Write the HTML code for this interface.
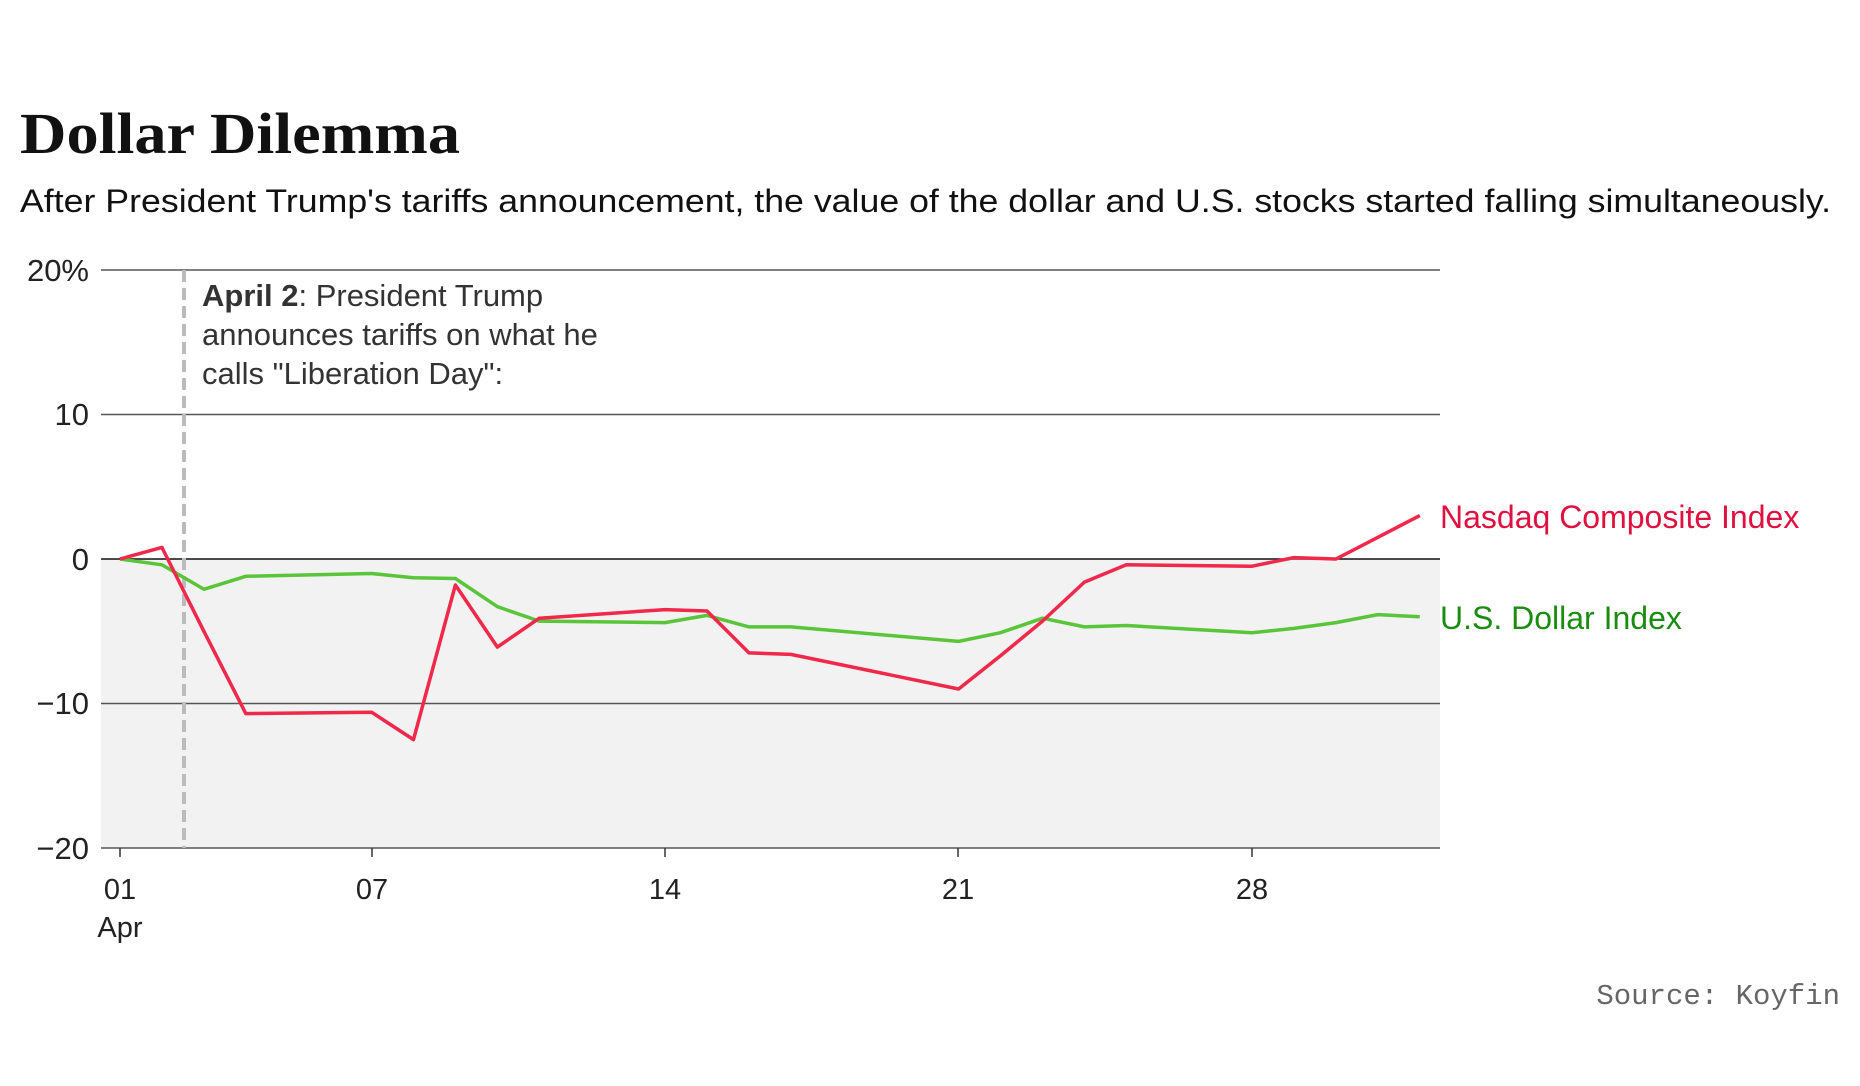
<!DOCTYPE html>
<html><head><meta charset="utf-8"><style>
html,body{margin:0;padding:0;background:#fff;}
svg{display:block;}
</style></head><body>
<svg id="c" width="1860" height="1086" xmlns="http://www.w3.org/2000/svg">
<text x="20" y="153" font-family="Liberation Serif, serif" font-size="58" font-weight="bold" textLength="440" lengthAdjust="spacingAndGlyphs" fill="#111">Dollar Dilemma</text>
<text x="20" y="212" font-family="Liberation Sans, sans-serif" font-size="32" textLength="1811" lengthAdjust="spacingAndGlyphs" fill="#111">After President Trump's tariffs announcement, the value of the dollar and U.S. stocks started falling simultaneously.</text>
<rect x="101" y="559" width="1339" height="289" fill="#f2f2f2"/>
<g stroke="#555" stroke-width="1.5">
<line x1="101" y1="270" x2="1440" y2="270"/>
<line x1="101" y1="414.5" x2="1440" y2="414.5"/>
<line x1="101" y1="703.5" x2="1440" y2="703.5"/>
<line x1="101" y1="848" x2="1440" y2="848"/>
</g>
<line x1="101" y1="559" x2="1440" y2="559" stroke="#111" stroke-width="1.5"/>
<g font-family="Liberation Sans, sans-serif" font-size="31" fill="#222" text-anchor="end">
<text x="89" y="281">20%</text>
<text x="89" y="425">10</text>
<text x="89" y="570">0</text>
<text x="89" y="714">−10</text>
<text x="89" y="859">−20</text>
</g>
<g stroke="#333" stroke-width="1.5">
<line x1="120" y1="848" x2="120" y2="857"/><line x1="372" y1="848" x2="372" y2="857"/><line x1="665" y1="848" x2="665" y2="857"/><line x1="958" y1="848" x2="958" y2="857"/><line x1="1252" y1="848" x2="1252" y2="857"/>
</g>
<g font-family="Liberation Sans, sans-serif" font-size="29" fill="#222" text-anchor="middle">
<text x="120" y="899">01</text><text x="120" y="937">Apr</text>
<text x="372" y="899">07</text><text x="665" y="899">14</text><text x="958" y="899">21</text><text x="1252" y="899">28</text>
</g>
<line x1="184" y1="270" x2="184" y2="848" stroke="#bbb" stroke-width="4" stroke-dasharray="12,6"/>
<g font-family="Liberation Sans, sans-serif" font-size="31" fill="#333">
<text x="202" y="306"><tspan font-weight="bold">April 2</tspan>: President Trump</text>
<text x="202" y="345">announces tariffs on what he</text>
<text x="202" y="384">calls "Liberation Day":</text>
</g>
<polyline id="g" fill="none" stroke="#5ac53a" stroke-width="3.5" stroke-linejoin="round"/>
<polyline id="r" fill="none" stroke="#f0284a" stroke-width="3.5" stroke-linejoin="round"/>
<text x="1440" y="528" font-family="Liberation Sans, sans-serif" font-size="32" fill="#e0103f">Nasdaq Composite Index</text>
<text x="1440" y="629" font-family="Liberation Sans, sans-serif" font-size="32" fill="#1a8c10">U.S. Dollar Index</text>
<text x="1840" y="1004" text-anchor="end" font-family="Liberation Mono, monospace" font-size="29" fill="#666">Source: Koyfin</text>
</svg>
<script>
function pts(d){return d.map(function(p){return (120+(p[0]-1)*41.93).toFixed(1)+","+(559-p[1]*14.45).toFixed(1)}).join(" ");}
var r=[[1,0],[2,0.8],[3,-5],[4,-10.7],[7,-10.6],[8,-12.5],[9,-1.8],[10,-6.1],[11,-4.1],[14,-3.5],[15,-3.6],[16,-6.5],[17,-6.6],[21,-9.0],[22,-6.7],[23,-4.3],[24,-1.6],[25,-0.4],[28,-0.5],[29,0.1],[30,0],[31,1.5],[32,3.0]];
var g=[[1,0],[2,-0.4],[3,-2.1],[4,-1.2],[7,-1.0],[8,-1.3],[9,-1.35],[10,-3.3],[11,-4.3],[14,-4.4],[15,-3.9],[16,-4.7],[17,-4.7],[21,-5.7],[22,-5.1],[23,-4.1],[24,-4.7],[25,-4.6],[28,-5.1],[29,-4.8],[30,-4.4],[31,-3.85],[32,-4.0]];
document.getElementById('r').setAttribute('points',pts(r));
document.getElementById('g').setAttribute('points',pts(g));
</script>
</body></html>
